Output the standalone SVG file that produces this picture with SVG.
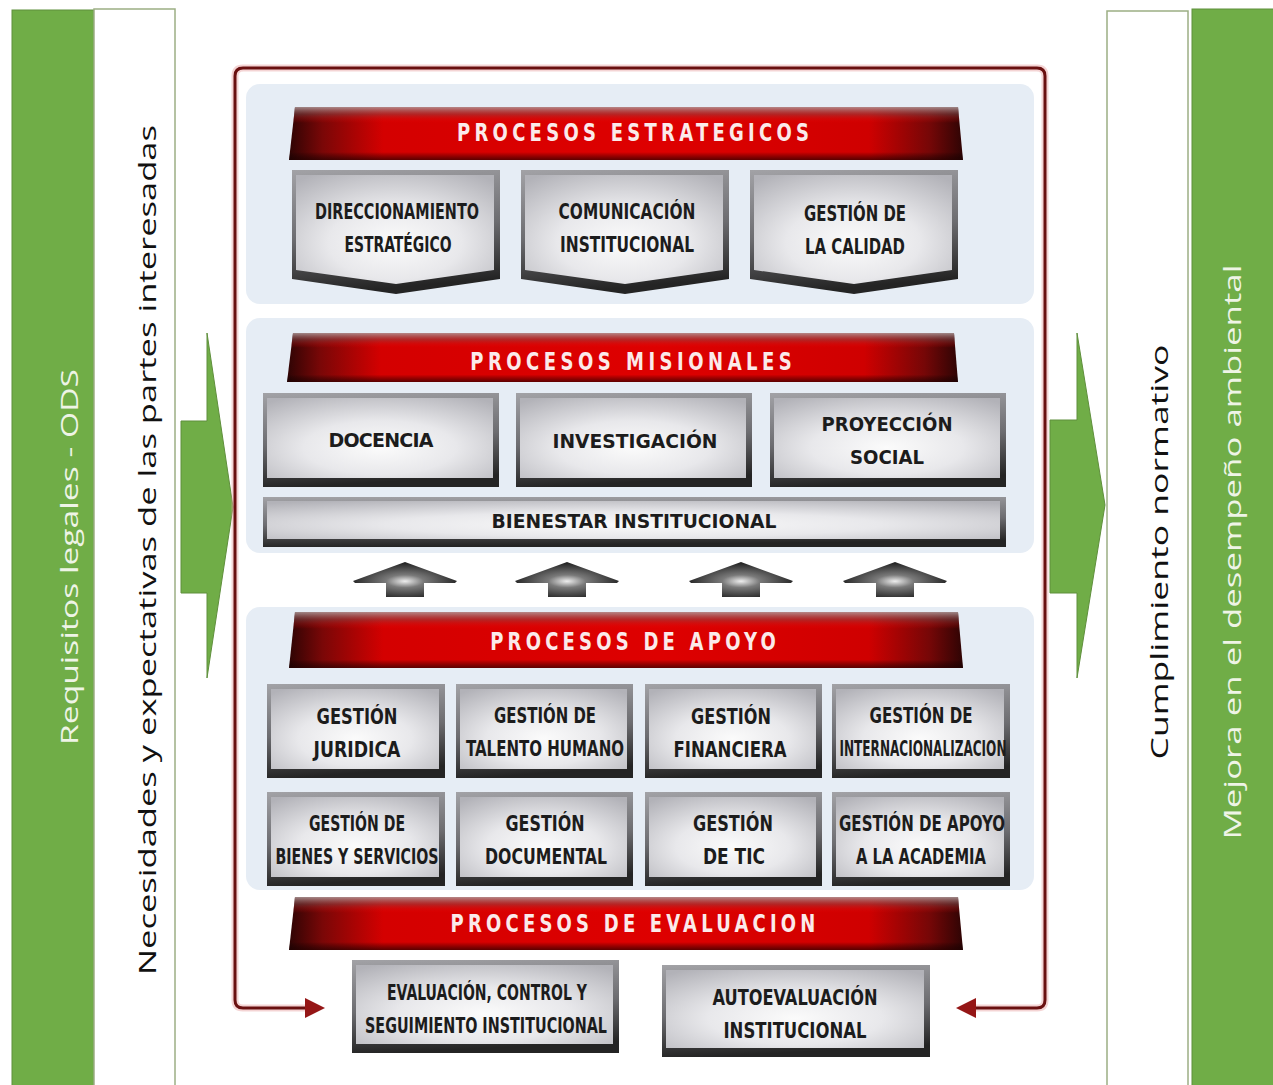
<svg xmlns="http://www.w3.org/2000/svg" xmlns:xlink="http://www.w3.org/1999/xlink" width="1273" height="1085" viewBox="0 0 1273 1085">
<defs>
<style>
.gbar{fill:#70ad47;stroke:#5f8f3c;stroke-width:1}
.wbar{fill:#ffffff;stroke:#9cae84;stroke-width:1.5}
.vt{font-family:"Open Sans","Liberation Sans",sans-serif;font-size:24px;text-anchor:middle;dominant-baseline:central}
.panel{fill:#e6edf5}
.hbar{fill:url(#redH)}
.hshade{fill:url(#redV)}
.htxt{font-family:"DejaVu Sans Condensed","DejaVu Sans","Liberation Sans",sans-serif;font-weight:bold;font-size:25px;fill:#fbeaea;text-anchor:middle}
.outer{fill:url(#bevel)}
.face{fill:url(#face)}
.bt{font-family:"Liberation Sans Narrow","DejaVu Sans Condensed","Liberation Sans",sans-serif;font-weight:bold;font-size:21px;fill:#1c1c1c;text-anchor:middle}
.mt{font-family:"DejaVu Sans","Liberation Sans",sans-serif;font-weight:bold;font-size:19px;fill:#1c1c1c;text-anchor:middle}
.frame{fill:none;stroke:#6a1010;stroke-width:3}
.glow{fill:none;stroke:#e6a0a0;stroke-width:7;opacity:0.45}
</style>
<linearGradient id="redH" x1="0" y1="0" x2="1" y2="0">
<stop offset="0" stop-color="#2e0404"/>
<stop offset="0.05" stop-color="#7a0707"/>
<stop offset="0.14" stop-color="#d40000"/>
<stop offset="0.55" stop-color="#de0000"/>
<stop offset="0.86" stop-color="#cf0000"/>
<stop offset="0.95" stop-color="#760707"/>
<stop offset="1" stop-color="#2e0404"/>
</linearGradient>
<linearGradient id="redV" x1="0" y1="0" x2="0" y2="1">
<stop offset="0" stop-color="#b0a0a0" stop-opacity="0.85"/>
<stop offset="0.14" stop-color="#8a5050" stop-opacity="0.45"/>
<stop offset="0.3" stop-color="#ff0000" stop-opacity="0"/>
<stop offset="0.85" stop-color="#000000" stop-opacity="0"/>
<stop offset="1" stop-color="#1a0000" stop-opacity="0.65"/>
</linearGradient>
<linearGradient id="bevel" x1="0" y1="0" x2="0.15" y2="1">
<stop offset="0" stop-color="#a2a2a6"/>
<stop offset="0.55" stop-color="#6c6c70"/>
<stop offset="1" stop-color="#242424"/>
</linearGradient>
<radialGradient id="face" cx="0.5" cy="0.62" r="0.75">
<stop offset="0" stop-color="#fbfbfb"/>
<stop offset="0.45" stop-color="#e8e8eb"/>
<stop offset="1" stop-color="#b2b2b8"/>
</radialGradient>
<radialGradient id="agr" cx="0.5" cy="0.55" r="0.6">
<stop offset="0" stop-color="#eeeeee"/>
<stop offset="0.3" stop-color="#7a7a7a"/>
<stop offset="1" stop-color="#101010"/>
</radialGradient>
<path id="uparrow" d="M0,0 L52,19 L50,21 L19,21 L19,35 L-19,35 L-19,21 L-50,21 L-52,19 Z" fill="url(#agr)"/>
<marker id="ah" viewBox="0 0 10 10" refX="0" refY="5" markerWidth="24" markerHeight="20" markerUnits="userSpaceOnUse" orient="auto">
<path d="M0,0 L10,5 L0,10 Z" fill="#951616"/>
</marker>
</defs>
<rect width="1273" height="1085" fill="#ffffff"/>

<g id="side-left">
<rect class="gbar" x="12" y="10" width="82" height="1080"/>
<rect class="wbar" x="94" y="9" width="81" height="1080"/>
<text class="vt" transform="translate(68,557) rotate(-90)" fill="#eef4e6" font-size="22" textLength="376" lengthAdjust="spacingAndGlyphs">Requisitos legales - ODS</text>
<text class="vt" transform="translate(146,550) rotate(-90)" fill="#111" font-size="25" textLength="850" lengthAdjust="spacingAndGlyphs">Necesidades y expectativas de las partes interesadas</text>
</g>
<g id="side-right">
<rect class="wbar" x="1107" y="11" width="81" height="1080"/>
<rect class="gbar" x="1192" y="9" width="82" height="1080"/>
<text class="vt" transform="translate(1158,552) rotate(-90)" fill="#111" font-size="25" textLength="415" lengthAdjust="spacingAndGlyphs">Cumplimiento normativo</text>
<text class="vt" transform="translate(1231,552) rotate(-90)" fill="#eef4e6" font-size="23" textLength="575" lengthAdjust="spacingAndGlyphs">Mejora en el desempeño ambiental</text>
</g>
<g id="green-arrows">
<path d="M181,421 L207,421 L207,333 L233,507 L207,678 L207,593 L181,593 Z" fill="#70ad47" stroke="#5f8f3c" stroke-width="1"/>
<path d="M1050,420 L1077,420 L1077,333 L1105,505 L1077,678 L1077,593 L1050,593 Z" fill="#70ad47" stroke="#5f8f3c" stroke-width="1"/>
</g>

<g id="panels">
<rect class="panel" x="246" y="84" width="788" height="220" rx="14"/>
<rect class="panel" x="246" y="318" width="788" height="235" rx="14"/>
<rect class="panel" x="246" y="607" width="788" height="283" rx="14"/>
</g>

<g id="connectors">
<path class="glow" d="M640,68 L243,68 Q235,68 235,76 L235,1000 Q235,1008 243,1008 L305,1008"/>
<path class="glow" d="M640,68 L1037,68 Q1045,68 1045,76 L1045,1000 Q1045,1008 1037,1008 L976,1008"/>
<path class="frame" d="M640,68 L243,68 Q235,68 235,76 L235,1000 Q235,1008 243,1008 L305,1008" marker-end="url(#ah)"/>
<path class="frame" d="M640,68 L1037,68 Q1045,68 1045,76 L1045,1000 Q1045,1008 1037,1008 L976,1008" marker-end="url(#ah)"/>
<use href="#uparrow" x="405" y="562"/>
<use href="#uparrow" x="567" y="562"/>
<use href="#uparrow" x="741" y="562"/>
<use href="#uparrow" x="895" y="562"/>
</g>

<g id="hdr-estrategicos">
<path class="hbar" d="M295,107 L958,107 L963,160 L289,160 Z"/>
<path class="hshade" d="M295,107 L958,107 L963,160 L289,160 Z"/>
<text class="htxt" transform="translate(633,141) scale(0.8,1)" textLength="440" lengthAdjust="spacing">PROCESOS ESTRATEGICOS</text>
</g>
<g id="n-direccionamiento">
<path class="outer" d="M292,170 L500,170 L500,279 L396,294 L292,279 Z"/>
<path class="face" d="M296,175 L494,175 L494,270 L396,284 L296,270 Z"/>
<text class="bt" x="397" y="219" textLength="164" lengthAdjust="spacingAndGlyphs">DIRECCIONAMIENTO</text>
<text class="bt" x="398" y="252" textLength="107" lengthAdjust="spacingAndGlyphs">ESTRATÉGICO</text>
</g>
<g id="n-comunicacion">
<path class="outer" d="M521,170 L729,170 L729,279 L625,294 L521,279 Z"/>
<path class="face" d="M525,175 L723,175 L723,270 L625,284 L525,270 Z"/>
<text class="bt" x="627" y="219" textLength="137" lengthAdjust="spacingAndGlyphs">COMUNICACIÓN</text>
<text class="bt" x="627" y="252" textLength="134" lengthAdjust="spacingAndGlyphs">INSTITUCIONAL</text>
</g>
<g id="n-calidad">
<path class="outer" d="M750,170 L958,170 L958,279 L854,294 L750,279 Z"/>
<path class="face" d="M754,175 L952,175 L952,270 L854,284 L754,270 Z"/>
<text class="bt" x="855" y="221" textLength="102" lengthAdjust="spacingAndGlyphs">GESTIÓN DE</text>
<text class="bt" x="855" y="254" textLength="100" lengthAdjust="spacingAndGlyphs">LA CALIDAD</text>
</g>

<g id="hdr-misionales">
<path class="hbar" d="M293,333 L954,333 L958,382 L287,382 Z"/>
<path class="hshade" d="M293,333 L954,333 L958,382 L287,382 Z"/>
<text class="htxt" transform="translate(631,370) scale(0.8,1)" textLength="402" lengthAdjust="spacing">PROCESOS MISIONALES</text>
</g>
<g id="n-docencia">
<rect class="outer" x="263" y="393" width="236" height="94"/>
<rect class="face" x="267" y="398" width="226" height="80"/>
<text class="mt" x="381" y="447" textLength="105" lengthAdjust="spacing">DOCENCIA</text>
</g>
<g id="n-investigacion">
<rect class="outer" x="516" y="393" width="236" height="94"/>
<rect class="face" x="520" y="398" width="226" height="80"/>
<text class="mt" x="635" y="448" textLength="165" lengthAdjust="spacingAndGlyphs">INVESTIGACIÓN</text>
</g>
<g id="n-proyeccion">
<rect class="outer" x="770" y="393" width="236" height="94"/>
<rect class="face" x="774" y="398" width="226" height="80"/>
<text class="mt" x="887" y="431" textLength="131" lengthAdjust="spacingAndGlyphs">PROYECCIÓN</text>
<text class="mt" x="887" y="464" textLength="74" lengthAdjust="spacingAndGlyphs">SOCIAL</text>
</g>
<g id="n-bienestar">
<rect class="outer" x="263" y="497" width="743" height="50"/>
<rect class="face" x="267" y="501" width="733" height="38"/>
<text class="mt" x="634" y="528" font-size="17" textLength="285" lengthAdjust="spacingAndGlyphs">BIENESTAR INSTITUCIONAL</text>
</g>

<g id="hdr-apoyo">
<path class="hbar" d="M295,612 L958,612 L963,668 L289,668 Z"/>
<path class="hshade" d="M295,612 L958,612 L963,668 L289,668 Z"/>
<text class="htxt" transform="translate(633,650) scale(0.8,1)" textLength="357" lengthAdjust="spacing">PROCESOS DE APOYO</text>
</g>
<g id="n-juridica">
<rect class="outer" x="267" y="684" width="178" height="94"/>
<rect class="face" x="271" y="689" width="168" height="80"/>
<text class="bt" x="357" y="724" textLength="81" lengthAdjust="spacingAndGlyphs">GESTIÓN</text>
<text class="bt" x="357" y="757" textLength="87" lengthAdjust="spacingAndGlyphs">JURIDICA</text>
</g>
<g id="n-talento">
<rect class="outer" x="456" y="684" width="177" height="94"/>
<rect class="face" x="460" y="689" width="167" height="80"/>
<text class="bt" x="545" y="723" textLength="102" lengthAdjust="spacingAndGlyphs">GESTIÓN DE</text>
<text class="bt" x="545" y="756" textLength="158" lengthAdjust="spacingAndGlyphs">TALENTO HUMANO</text>
</g>
<g id="n-financiera">
<rect class="outer" x="645" y="684" width="177" height="94"/>
<rect class="face" x="649" y="689" width="167" height="80"/>
<text class="bt" x="731" y="724" textLength="80" lengthAdjust="spacingAndGlyphs">GESTIÓN</text>
<text class="bt" x="730" y="757" textLength="113" lengthAdjust="spacingAndGlyphs">FINANCIERA</text>
</g>
<g id="n-internacionalizacion">
<rect class="outer" x="832" y="684" width="178" height="94"/>
<rect class="face" x="836" y="689" width="168" height="80"/>
<text class="bt" x="921" y="723" textLength="103" lengthAdjust="spacingAndGlyphs">GESTIÓN DE</text>
<text class="bt" x="923" y="756" textLength="167" lengthAdjust="spacingAndGlyphs">INTERNACIONALIZACION</text>
</g>
<g id="n-bienes">
<rect class="outer" x="267" y="792" width="178" height="94"/>
<rect class="face" x="271" y="797" width="168" height="80"/>
<text class="bt" x="357" y="831" textLength="96" lengthAdjust="spacingAndGlyphs">GESTIÓN DE</text>
<text class="bt" x="357" y="864" textLength="163" lengthAdjust="spacingAndGlyphs">BIENES Y SERVICIOS</text>
</g>
<g id="n-documental">
<rect class="outer" x="456" y="792" width="177" height="94"/>
<rect class="face" x="460" y="797" width="167" height="80"/>
<text class="bt" x="545" y="831" textLength="79" lengthAdjust="spacingAndGlyphs">GESTIÓN</text>
<text class="bt" x="546" y="864" textLength="122" lengthAdjust="spacingAndGlyphs">DOCUMENTAL</text>
</g>
<g id="n-tic">
<rect class="outer" x="645" y="792" width="177" height="94"/>
<rect class="face" x="649" y="797" width="167" height="80"/>
<text class="bt" x="733" y="831" textLength="80" lengthAdjust="spacingAndGlyphs">GESTIÓN</text>
<text class="bt" x="734" y="864" textLength="62" lengthAdjust="spacingAndGlyphs">DE TIC</text>
</g>
<g id="n-academia">
<rect class="outer" x="832" y="792" width="178" height="94"/>
<rect class="face" x="836" y="797" width="168" height="80"/>
<text class="bt" x="922" y="831" textLength="166" lengthAdjust="spacingAndGlyphs">GESTIÓN DE APOYO</text>
<text class="bt" x="921" y="864" textLength="130" lengthAdjust="spacingAndGlyphs">A LA ACADEMIA</text>
</g>

<g id="hdr-evaluacion">
<path class="hbar" d="M295,897 L958,897 L963,950 L289,950 Z"/>
<path class="hshade" d="M295,897 L958,897 L963,950 L289,950 Z"/>
<text class="htxt" transform="translate(633,932) scale(0.8,1)" textLength="456" lengthAdjust="spacing">PROCESOS DE EVALUACION</text>
</g>
<g id="n-evaluacion-control">
<rect class="outer" x="352" y="960" width="267" height="93"/>
<rect class="face" x="356" y="965" width="257" height="79"/>
<text class="bt" x="487" y="1000" textLength="200" lengthAdjust="spacingAndGlyphs">EVALUACIÓN, CONTROL Y</text>
<text class="bt" x="486" y="1033" textLength="242" lengthAdjust="spacingAndGlyphs">SEGUIMIENTO INSTITUCIONAL</text>
</g>
<g id="n-autoevaluacion">
<rect class="outer" x="662" y="965" width="268" height="92"/>
<rect class="face" x="666" y="970" width="258" height="78"/>
<text class="bt" x="795" y="1005" textLength="165" lengthAdjust="spacingAndGlyphs">AUTOEVALUACIÓN</text>
<text class="bt" x="795" y="1038" textLength="143" lengthAdjust="spacingAndGlyphs">INSTITUCIONAL</text>
</g>
</svg>
